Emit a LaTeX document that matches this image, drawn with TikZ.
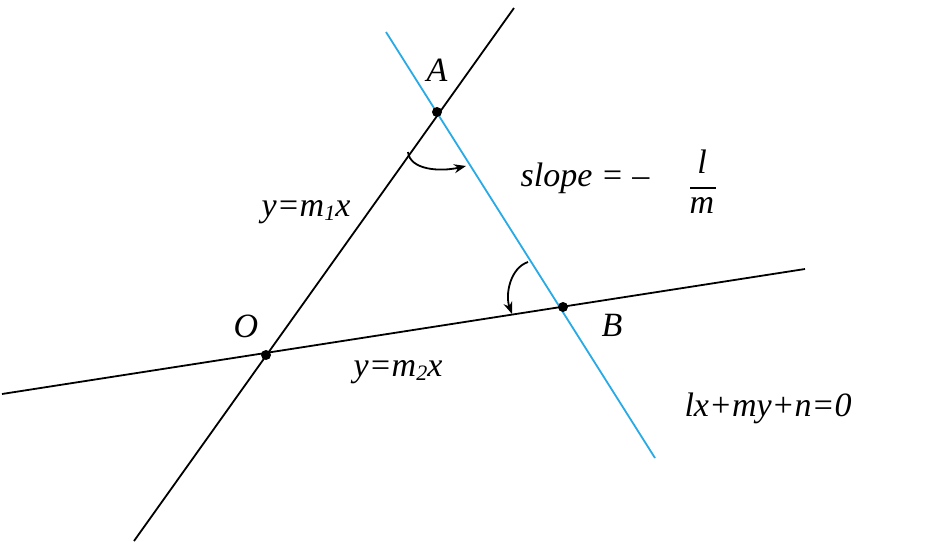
\documentclass[tikz,border=0pt]{standalone}
\usepackage{fontspec}
\setmainfont{Liberation Serif}
\usetikzlibrary{arrows.meta}
\begin{document}
\begin{tikzpicture}[x=1pt,y=-1pt,
  blk/.style={line width=1.8pt,black},
  blu/.style={line width=1.8pt,color={rgb,255:red,40;green,170;blue,230}},
  dot/.style={circle,fill=black,inner sep=0pt,minimum size=10pt},
  lab/.style={inner sep=1pt,font=\itshape\fontsize{34}{36}\selectfont}]
\useasboundingbox (0,0) rectangle (942,541);
\coordinate (l1s) at (134,541); \coordinate (l1e) at (514,8);
\coordinate (l2s) at (2,394); \coordinate (l2e) at (805,269);
\coordinate (bs) at (386,32); \coordinate (be) at (655,458);
\draw[blk] (l1s) -- (l1e);
\draw[blk] (l2s) -- (l2e);
\draw[blu] (bs) -- (be);
\node[dot] (O) at (266,355) {};
\node[dot] (A) at (437,112) {};
\node[dot] (B) at (563,307) {};
\node[lab] (tA) at (437,70) {A};
\node[lab] (tO) at (246,326) {O};
\node[lab] (tB) at (612,325) {B};
\node[lab] (t1) at (306,212) {y=m\raisebox{-4pt}{\fontsize{22}{24}\selectfont 1}x};
\node[lab] (t2) at (585,178) {slope = –};
\node[lab] (t2n) at (702,162) {l};
\node[lab] (t2d) at (702,205) {m};
\draw[blk] (690,188) -- (716,188);
\node[lab] (t3) at (398,372) {y=m\raisebox{-4pt}{\fontsize{22}{24}\selectfont 2}x};
\node[lab] (t4) at (768,408) {lx+my+n=0};
\coordinate (a1) at (408,152); \coordinate (a2) at (466,166);
\draw[blk,-{Stealth[length=12pt]}] (a1) .. controls (410,170) and (440,172) .. (a2);
\coordinate (b1) at (528,262); \coordinate (b2) at (512,314);
\draw[blk,-{Stealth[length=12pt]}] (b1) .. controls (510,268) and (505,295) .. (b2);
\end{tikzpicture}
\end{document}
